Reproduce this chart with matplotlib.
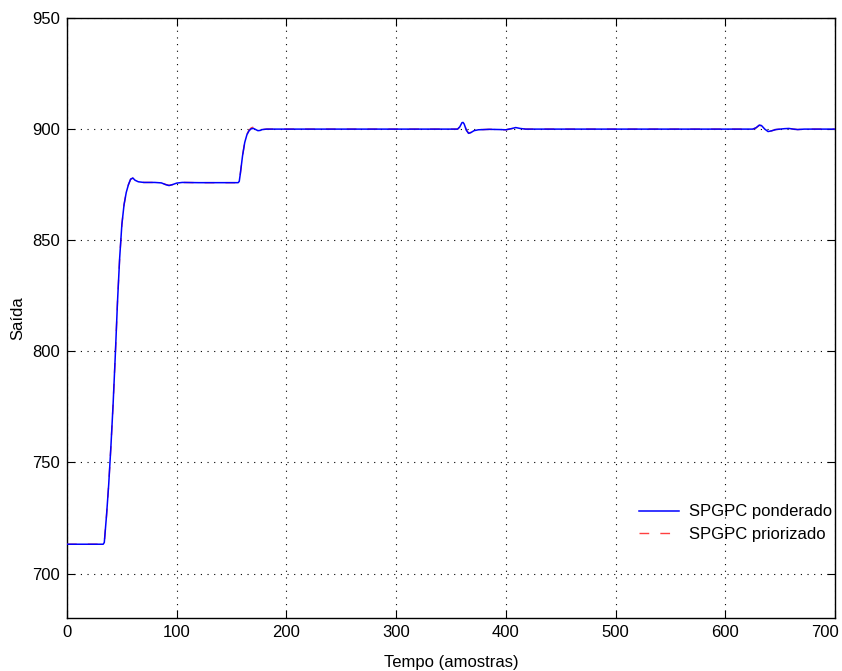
import matplotlib
matplotlib.use('Agg')
import matplotlib.pyplot as mpl
import matplotlib.transforms as mtransforms
import numpy

# sample instants and plant output for the two controllers
tempo = [0, 33, 34, 36, 38, 40, 42, 44, 46, 48,
         50, 52, 54, 56, 58, 60, 62, 65, 70, 80,
         86, 90, 93, 96, 100, 105, 120, 140, 156, 157,
         158, 160, 162, 164, 166, 168, 170, 172, 174, 176,
         178, 182, 200, 300, 356, 358, 360, 361, 362, 364,
         366, 368, 371, 375, 385, 395, 400, 405, 409, 413,
         418, 500, 600, 625, 628, 631, 633, 636, 639, 642,
         646, 650, 654, 658, 662, 666, 672, 700]

saida_ponderado = [713.2, 713.2, 714.0, 726.0, 740.0, 757.0, 776.0, 798.0, 822.0, 842.0,
                   857.0, 866.0, 871.5, 875.0, 877.5, 878.0, 877.0, 876.3, 876.0, 876.0,
                   875.8, 875.0, 874.6, 875.0, 875.7, 876.0, 875.9, 875.9, 875.9, 876.5,
                   880.0, 888.0, 894.0, 897.5, 899.3, 900.2, 900.3, 899.8, 899.3, 899.4,
                   899.8, 900.0, 900.0, 900.0, 900.0, 901.0, 902.9, 903.0, 902.3, 899.5,
                   898.1, 898.4, 899.3, 899.7, 899.9, 899.8, 899.7, 900.2, 900.7, 900.3,
                   900.0, 900.0, 900.0, 900.0, 900.6, 901.8, 901.6, 900.0, 898.9, 899.2,
                   899.8, 900.0, 900.2, 900.3, 900.0, 899.8, 900.0, 900.0]

saida_priorizado = [713.2, 713.2, 714.0, 726.0, 740.0, 757.0, 776.0, 798.0, 822.0, 842.0,
                    857.0, 866.0, 871.5, 875.0, 877.4, 877.9, 877.0, 876.3, 876.0, 876.0,
                    875.8, 875.1, 874.7, 875.0, 875.7, 876.0, 875.9, 875.9, 875.9, 876.5,
                    880.0, 888.0, 894.2, 897.8, 899.6, 900.6, 900.9, 900.4, 899.6, 899.5,
                    899.8, 900.0, 900.0, 900.0, 900.0, 901.0, 902.8, 902.9, 902.2, 899.6,
                    898.2, 898.5, 899.3, 899.7, 899.9, 899.8, 899.7, 900.2, 900.6, 900.3,
                    900.0, 900.0, 900.0, 900.0, 900.5, 901.7, 901.5, 900.0, 899.0, 899.2,
                    899.8, 900.0, 900.2, 900.3, 900.0, 899.8, 900.0, 900.0]

x_ticks = [0, 100, 200, 300, 400, 500, 600, 700]
y_ticks = [700, 750, 800, 850, 900, 950]

FONT_SIZE = 12


def style_axes(ax):
    ax.set_xlim(0, 700)
    ax.set_ylim(680, 950)
    ax.set_xticks(x_ticks)
    ax.set_yticks(y_ticks)
    ax.grid(True, linestyle=(0, (1, 5)), color='black', linewidth=0.8)
    ax.tick_params(direction='in', length=6, width=0.8, top=True, right=True,
                   labelsize=FONT_SIZE, pad=5)
    for spine in ax.spines.values():
        spine.set_linewidth(1.0)
    # keep the last x label inside the canvas
    last = ax.get_xticklabels()[-1]
    shift = mtransforms.ScaledTranslation(-10 / 100, 0, ax.figure.dpi_scale_trans)
    last.set_transform(last.get_transform() + shift)


mpl.rcParams['font.family'] = ['Liberation Sans', 'DejaVu Sans']

fig, ax = mpl.subplots(figsize=(8.42, 6.71), dpi=100)
ax.set_position([67 / 842, 53 / 671, 768 / 842, 600 / 671])

t = numpy.array(tempo)
ax.plot(t, saida_priorizado, color='#ff4040', linestyle=(0, (7, 8)), linewidth=1.0,
        label='SPGPC priorizado', zorder=3)
ax.plot(t, saida_ponderado, color='#0000ff', linewidth=1.1,
        label='SPGPC ponderado', zorder=4)

style_axes(ax)
ax.set_xlabel('Tempo (amostras)', fontsize=FONT_SIZE, labelpad=11)
ax.set_ylabel('Saída', fontsize=FONT_SIZE, labelpad=5)

handles, labels = ax.get_legend_handles_labels()
ax.legend(handles[::-1], labels[::-1], loc='center right', bbox_to_anchor=(1.0, 0.158),
          frameon=False, fontsize=FONT_SIZE, handlelength=2.4, handletextpad=0.6,
          labelspacing=0.45, borderaxespad=0.0, borderpad=0.15)

fig.savefig('out.png', dpi=100)
